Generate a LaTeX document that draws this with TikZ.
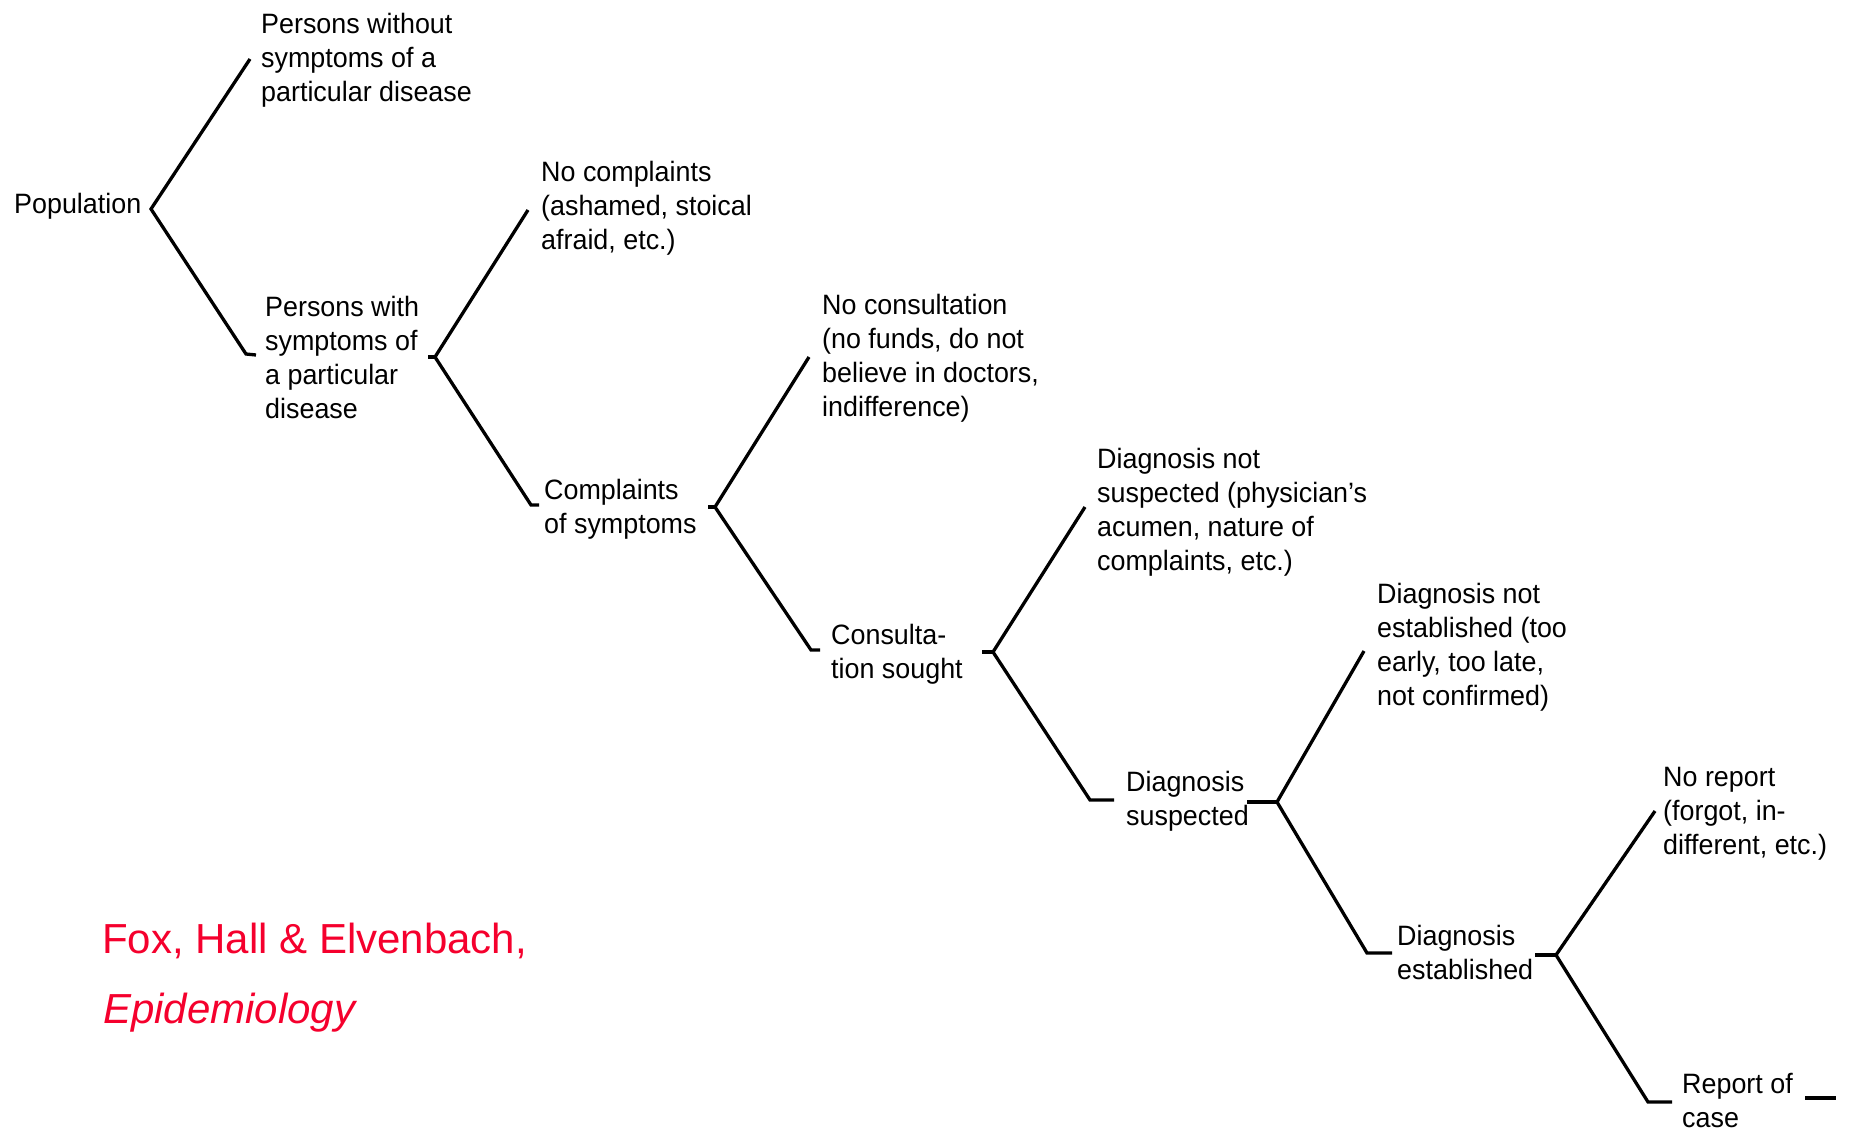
\documentclass[tikz,border=0pt]{standalone}
\usepackage{fontspec}
\setmainfont{Liberation Sans}
\newfontfamily\condfont{Liberation Sans}[FakeStretch=0.96,Ligatures=TeX]
\newcommand{\lns}[1]{\begin{tabular}[t]{@{}l@{}}#1\end{tabular}}
\definecolor{citered}{RGB}{245,0,45}
\begin{document}
\begin{tikzpicture}[x=1pt,y=-1pt,
  txt/.style={anchor=base west,inner sep=0pt,font=\condfont\fontsize{28}{34}\selectfont},
  cite/.style={anchor=base west,inner sep=0pt,text=citered,font=\fontsize{42}{50}\selectfont},
  branch/.style={line width=3.3pt,line join=miter,line cap=butt}]
\fill[white] (0,0) rectangle (1849,1132);
\useasboundingbox (0,0) rectangle (1849,1132);

% text nodes
\node[txt] (pop) at (14,213) {Population};
\node[txt] (pwo) at (261,34) {\lns{Persons without\\symptoms of a\\particular disease}};
\node[txt] (pw)  at (265,316) {\lns{Persons with\\symptoms of\\a particular\\disease}};
\node[txt] (nc)  at (541,181) {\lns{No complaints\\(ashamed, stoical\\afraid, etc.)}};
\node[txt] (cs)  at (544,499) {\lns{Complaints\\of symptoms}};
\node[txt] (ncon) at (822,314) {\lns{No consultation\\(no funds, do not\\believe in doctors,\\indifference)}};
\node[txt] (cons) at (831,644) {\lns{Consulta-\\tion sought}};
\node[txt] (dns) at (1097,468) {\lns{Diagnosis not\\suspected (physician’s\\acumen, nature of\\complaints, etc.)}};
\node[txt] (ds)  at (1126,791) {\lns{Diagnosis\\suspected}};
\node[txt] (dne) at (1377,603) {\lns{Diagnosis not\\established (too\\early, too late,\\not confirmed)}};
\node[txt] (de)  at (1397,945) {\lns{Diagnosis\\established}};
\node[txt] (nr)  at (1663,786) {\lns{No report\\(forgot, in-\\different, etc.)}};
\node[txt] (rc)  at (1682,1093) {\lns{Report of\\case}};

\node[cite] (c1) at (102,953) {Fox, Hall \& Elvenbach,};
\node[cite,font=\fontsize{42}{50}\selectfont\itshape] (c2) at (103,1023) {Epidemiology};

% branch coordinates
\coordinate (v1) at (151,209); \coordinate (u1) at (250,59);  \coordinate (l1) at (246,354); \coordinate (t1) at (256,355);
\coordinate (s2) at (428,357); \coordinate (v2) at (435,357); \coordinate (u2) at (528,210);  \coordinate (l2) at (531,505); \coordinate (t2) at (539,505);
\coordinate (s3) at (708,507); \coordinate (v3) at (715,507); \coordinate (u3) at (809,357);  \coordinate (l3) at (811,650); \coordinate (t3) at (820,650);
\coordinate (s4) at (982,652); \coordinate (v4) at (993,652); \coordinate (u4) at (1085,507); \coordinate (l4) at (1090,800); \coordinate (t4) at (1114,800);
\coordinate (s5) at (1247,802); \coordinate (v5) at (1277,802); \coordinate (u5) at (1364,651); \coordinate (l5) at (1367,953); \coordinate (t5) at (1392,953);
\coordinate (s6) at (1535,955); \coordinate (v6) at (1556,955); \coordinate (u6) at (1655,811); \coordinate (l6) at (1648,1102); \coordinate (t6) at (1672,1102);
\coordinate (d1) at (1805,1098); \coordinate (d2) at (1836,1098);

\draw[branch] (u1) -- (v1) -- (l1) -- (t1);
\draw[branch] (u2) -- (v2) -- (l2) -- (t2);
\draw[branch] (s2) -- (v2);
\draw[branch] (u3) -- (v3) -- (l3) -- (t3);
\draw[branch] (s3) -- (v3);
\draw[branch] (u4) -- (v4) -- (l4) -- (t4);
\draw[branch] (s4) -- (v4);
\draw[branch] (u5) -- (v5) -- (l5) -- (t5);
\draw[branch] (s5) -- (v5);
\draw[branch] (u6) -- (v6) -- (l6) -- (t6);
\draw[branch] (s6) -- (v6);
\draw[branch] (d1) -- (d2);
\end{tikzpicture}
\end{document}
